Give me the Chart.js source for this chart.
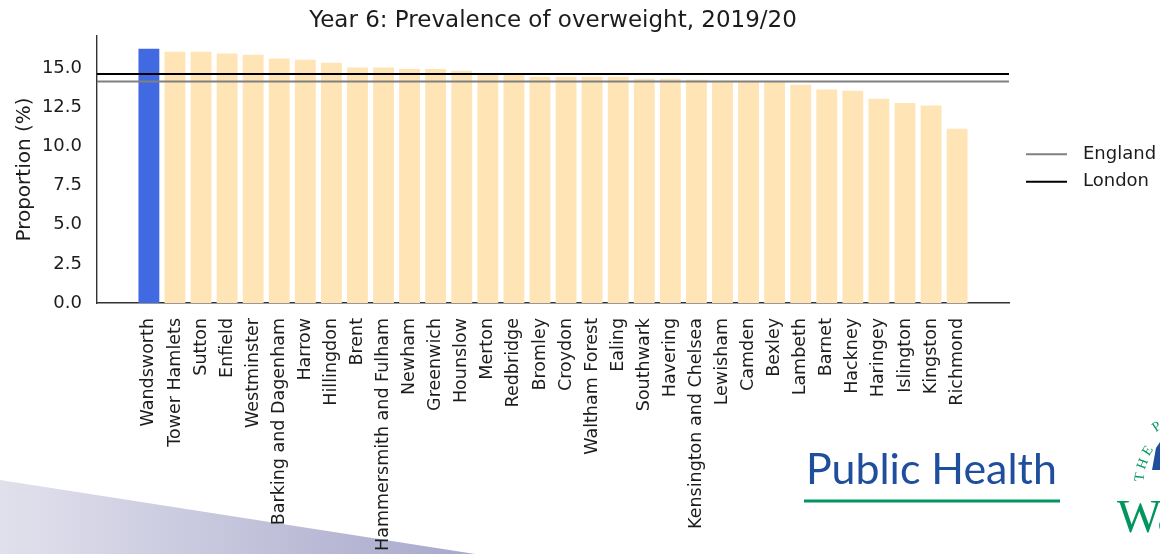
<!DOCTYPE html>
<html>
<head>
<meta charset="utf-8">
<script src="https://cdn.jsdelivr.net/npm/chart.js@4.4.1/dist/chart.umd.min.js"></script>
<style>
  html, body { margin: 0; padding: 0; background: #fff; overflow: hidden; }
  #wrap { width: 1160px; height: 554px; }
</style>
</head>
<body>
<div id="wrap"><canvas id="chart" width="1160" height="554"></canvas></div>
<script>
const boroughs = [
  'Wandsworth', 'Tower Hamlets', 'Sutton', 'Enfield', 'Westminster',
  'Barking and Dagenham', 'Harrow', 'Hillingdon', 'Brent', 'Hammersmith and Fulham',
  'Newham', 'Greenwich', 'Hounslow', 'Merton', 'Redbridge', 'Bromley', 'Croydon',
  'Waltham Forest', 'Ealing', 'Southwark', 'Havering', 'Kensington and Chelsea',
  'Lewisham', 'Camden', 'Bexley', 'Lambeth', 'Barnet', 'Hackney', 'Haringey',
  'Islington', 'Kingston', 'Richmond'
];
const overweight = [
  16.25, 16.05, 16.05, 15.95, 15.86,
  15.63, 15.54, 15.35, 15.05, 15.05,
  14.95, 14.95, 14.84, 14.69, 14.68, 14.46, 14.46,
  14.46, 14.46, 14.33, 14.33, 14.26,
  14.20, 14.17, 14.14, 13.95, 13.65, 13.56, 13.05,
  12.78, 12.62, 11.14
];
const highlight = 'Wandsworth';
const englandValue = 14.16;
const londonValue = 14.63;
const yTicks = [0, 2.5, 5, 7.5, 10, 12.5, 15];

// axis limits like matplotlib: bar width 0.8 and 5% margins
const span = boroughs.length - 1 + 0.8;
const xMin = -0.4 - span * 0.05;
const xMax = boroughs.length - 0.6 + span * 0.05;
const yMax = Math.max(...overweight) * 1.05;

const font = '"DejaVu Sans", sans-serif';
const textColor = '#1c1c1c';

// slide background bits: swoosh and logos
const slideDecor = {
  id: 'slideDecor',
  beforeDraw(chart) {
    const { ctx, width, height } = chart;
    ctx.save();
    ctx.fillStyle = '#fff';
    ctx.fillRect(0, 0, width, height);

    const g = ctx.createLinearGradient(0, 0, 475, 0);
    g.addColorStop(0, '#e1e1ed');
    g.addColorStop(1, '#a7a7cb');
    ctx.fillStyle = g;
    ctx.beginPath();
    ctx.moveTo(0, 480);
    ctx.lineTo(475, height);
    ctx.lineTo(0, height);
    ctx.closePath();
    ctx.fill();

    ctx.fillStyle = '#1f4e9c';
    ctx.textBaseline = 'alphabetic';
    ctx.font = '42px Lato';
    const w = ctx.measureText('Public Health').width;
    ctx.font = (42 * 251 / w).toFixed(1) + 'px Lato';
    ctx.fillText('Public Health', 806, 484);
    ctx.fillStyle = '#00965e';
    ctx.fillRect(804, 499.5, 256, 3);

    // council crest, cut off by the right edge
    ctx.font = '47px "Liberation Serif"';
    ctx.fillText('Wa', 1117, 532);
    ctx.font = '14px "Liberation Serif"';
    [['T', 1140, 477, -1.45], ['H', 1143, 464, -1.2], ['E', 1148, 451, -1.0], ['P', 1157, 427, -0.6]]
      .forEach(([c, x, y, r]) => {
        ctx.save();
        ctx.translate(x, y);
        ctx.rotate(r);
        ctx.textAlign = 'center';
        ctx.textBaseline = 'middle';
        ctx.fillText(c, 0, 0);
        ctx.restore();
      });
    ctx.fillStyle = '#1f4e9c';
    ctx.beginPath();
    ctx.moveTo(1160, 442);
    ctx.lineTo(1156, 448);
    ctx.lineTo(1152, 470);
    ctx.lineTo(1160, 470);
    ctx.closePath();
    ctx.fill();
    ctx.restore();
  }
};

// legend to the right of the axes
const sideLegend = {
  id: 'sideLegend',
  afterDraw(chart) {
    const { ctx, chartArea } = chart;
    const items = chart.data.datasets.filter(d => d.type === 'line');
    const midY = (chartArea.top + chartArea.bottom) / 2 - 1.5;
    ctx.save();
    ctx.font = '18px ' + font;
    ctx.textBaseline = 'middle';
    items.forEach((d, i) => {
      const y = midY + (i - (items.length - 1) / 2) * 27.4;
      ctx.strokeStyle = d.borderColor;
      ctx.lineWidth = d.borderWidth;
      ctx.beginPath();
      ctx.moveTo(chartArea.right + 17, y);
      ctx.lineTo(chartArea.right + 58, y);
      ctx.stroke();
      ctx.fillStyle = textColor;
      ctx.fillText(d.label, chartArea.right + 74, y);
    });
    ctx.restore();
  }
};

new Chart(document.getElementById('chart'), {
  type: 'bar',
  data: {
    datasets: [
      {
        type: 'line',
        label: 'England',
        data: [{ x: xMin, y: englandValue }, { x: xMax, y: englandValue }],
        borderColor: '#808080',
        borderWidth: 2,
        pointRadius: 0,
        order: 0
      },
      {
        type: 'line',
        label: 'London',
        data: [{ x: xMin, y: londonValue }, { x: xMax, y: londonValue }],
        borderColor: '#000000',
        borderWidth: 2,
        pointRadius: 0,
        order: 0
      },
      {
        label: 'Proportion',
        data: overweight.map((v, i) => ({ x: i, y: v })),
        backgroundColor: boroughs.map(b => b === highlight ? '#4169e1' : '#ffe4b5'),
        categoryPercentage: 1,
        barPercentage: 0.8,
        order: 1
      }
    ]
  },
  options: {
    responsive: false,
    animation: false,
    layout: { padding: { left: 0, right: 151, top: 0, bottom: 0 } },
    plugins: {
      legend: { display: false },
      tooltip: { enabled: false },
      title: {
        display: true,
        text: 'Year 6: Prevalence of overweight, 2019/20',
        fullSize: false,
        color: textColor,
        font: { family: font, size: 23, weight: 'normal' },
        padding: { top: 7.7, bottom: 0.7 }
      }
    },
    scales: {
      x: {
        type: 'linear',
        min: xMin,
        max: xMax,
        offset: false,
        grid: { display: false, drawTicks: false },
        border: { display: true, color: '#333', width: 1.4 },
        afterBuildTicks: s => { s.ticks = boroughs.map((_, i) => ({ value: i })); },
        afterFit: s => { s.height = 251; },
        ticks: {
          autoSkip: false,
          minRotation: 90,
          maxRotation: 90,
          padding: 15,
          color: textColor,
          font: { family: font, size: 17.5 },
          callback: v => boroughs[v]
        }
      },
      y: {
        min: 0,
        max: yMax,
        grid: { display: false, drawTicks: false },
        border: { display: true, color: '#333', width: 1.4 },
        afterBuildTicks: s => { s.ticks = yTicks.map(v => ({ value: v })); },
        afterFit: s => { s.width = 97; },
        ticks: {
          padding: 15,
          color: textColor,
          font: { family: font, size: 18 },
          callback: v => v.toFixed(1)
        },
        title: {
          display: true,
          text: 'Proportion (%)',
          color: textColor,
          font: { family: font, size: 20 },
          padding: { top: 13, bottom: 0 }
        }
      }
    }
  },
  plugins: [slideDecor, sideLegend]
});
</script>
</body>
</html>
